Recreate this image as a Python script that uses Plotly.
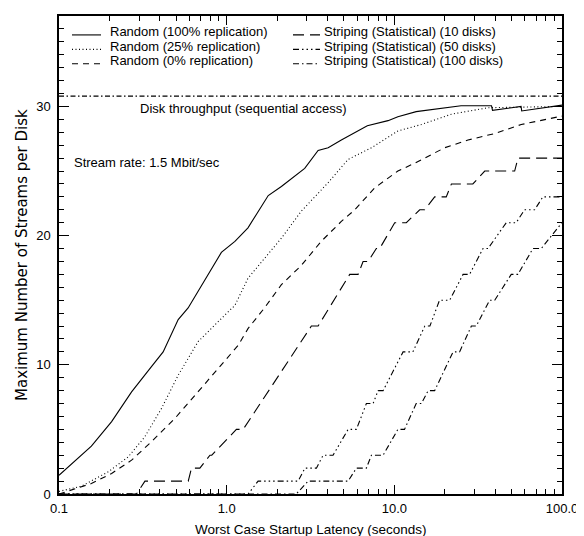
import plotly.graph_objects as go

# ---------------- data ----------------
rand100_x = [0.1, 0.156, 0.206, 0.271, 0.356, 0.418, 0.514, 0.589, 0.93, 1.12, 1.34, 1.77, 2.12,
             2.92, 3.51, 4.03, 4.83, 6.9, 9.17, 10.5, 13.5, 20, 25, 38, 38.5, 57, 57.5, 100]
rand100_y = [1.45, 3.7, 5.6, 7.9, 9.86, 11.0, 13.5, 14.4, 18.7, 19.55, 20.6, 23.1, 23.8,
             25.2, 26.6, 26.8, 27.4, 28.5, 28.9, 29.2, 29.6, 29.9, 30.05, 30.05, 29.7, 30.0, 29.65, 30.1]

rand25_x = [0.1, 0.136, 0.197, 0.259, 0.325, 0.409, 0.514, 0.676, 1.02, 1.12, 1.34, 2.12, 2.79,
            4.03, 5.3, 7.3, 10.5, 14.5, 21.9, 36.2, 100]
rand25_y = [0.2, 0.6, 1.72, 2.88, 4.43, 6.63, 9.2, 11.8, 14.1, 14.6, 16.7, 19.8, 21.9,
            24.1, 25.9, 26.8, 28.1, 28.6, 29.4, 29.9, 30.0]

rand0_x = [0.1, 0.156, 0.206, 0.271, 0.356, 0.491, 0.676, 0.977, 1.17, 1.34, 1.68, 2.12, 2.79,
           3.66, 4.83, 5.81, 7.64, 10.5, 13.2, 19.95, 27.5, 39.6, 57.1, 95.5, 100]
rand0_y = [0, 0.81, 1.59, 2.62, 4.05, 5.85, 7.92, 10.37, 11.5, 12.8, 14.4, 16.2, 17.7,
           19.55, 21.1, 22.0, 23.7, 25.0, 25.6, 26.8, 27.4, 27.9, 28.6, 29.2, 29.25]

stripe10_x = [0.1, 0.29, 0.3255, 0.59, 0.617, 0.692, 0.795, 0.815, 1.143, 1.254, 3.2, 3.51, 5.42,
              6.08, 6.51, 6.97, 7.81, 8.18, 10.05, 11.79, 14.17, 15.18, 17.4, 20.4, 21.9, 29.4,
              34.6, 52.2, 54.6, 100]
stripe10_y = [0, 0, 1, 1, 2, 2, 3, 3, 5, 5, 13, 13, 17,
              17, 18, 18, 19, 19, 21, 21, 22, 22, 23, 23, 24, 24,
              25, 25, 26, 26]

stripe50_x = [0.1, 1.343, 1.54, 2.67, 2.93, 3.43, 3.76, 4.31, 5.3, 5.94, 6.81, 7.47, 8.0, 8.57,
              11.27, 12.9, 15.2, 16.3, 18.6, 21.4, 25.7, 28.1, 33.8, 36.2, 46.5, 53.3, 59.8,
              68.7, 76.9, 92.3, 100]
stripe50_y = [0, 0, 1, 1, 2, 2, 3, 3, 5, 5, 7, 7, 8, 8,
              11, 11, 13, 13, 15, 15, 17, 17, 19, 19, 21, 21, 22,
              22, 23, 23, 23]

stripe100_x = [0.1, 2.6, 3.06, 5.3, 5.94, 6.81, 7.3, 8.57, 10.5, 11.5, 13.5, 14.5, 15.9, 17.4,
               22.4, 24.5, 28.8, 30.8, 37.0, 39.7, 49.8, 54.6, 67.1, 75.2, 100]
stripe100_y = [0, 0, 1, 1, 2, 2, 3, 3, 5, 5, 7, 7, 8, 8,
               11, 11, 13, 13, 15, 15, 17, 17, 19, 19, 21]

disk_throughput = 30.8
x_range = [0.1, 100]

legend_labels = ["Random (100% replication)", "Random (25% replication)", "Random (0% replication)",
                 "Striping (Statistical) (10 disks)", "Striping (Statistical) (50 disks)",
                 "Striping (Statistical) (100 disks)"]

x_tick_vals = [0.1, 1, 10, 100]
x_tick_text = ["0.1", "1.0", "10.0", "100.0"]
y_tick_vals = [0, 10, 20, 30]
y_tick_text = ["0", "10", "20", "30"]

x_title = "Worst Case Startup Latency (seconds)"
y_title = "Maximum Number of Streams per Disk"
throughput_label = "Disk throughput (sequential access)"
rate_label = "Stream rate: 1.5 Mbit/sec"

# ---------------- styles ----------------
FONT = "Liberation Sans, Arial, sans-serif"
YFONT = "DejaVu Sans, Liberation Sans, sans-serif"
dashes = ["solid", "1px,2.5px", "6px,5px", "11px,6px",
          "6px,3px,1.5px,3px,1.5px,3px,1.5px,3px", "6px,3px,1.5px,3px"]
dd_dash = "5px,2.5px,1.5px,2.5px"

series = [(rand100_x, rand100_y), (rand25_x, rand25_y), (rand0_x, rand0_y),
          (stripe10_x, stripe10_y), (stripe50_x, stripe50_y), (stripe100_x, stripe100_y)]

fig = go.Figure()
for (xs, ys), d, name in zip(series, dashes, legend_labels):
    fig.add_trace(go.Scatter(x=xs, y=ys, mode="lines", name=name, showlegend=False,
                             line=dict(color="black", width=1.1, dash=d)))

fig.add_trace(go.Scatter(x=x_range, y=[disk_throughput, disk_throughput], mode="lines",
                         showlegend=False, line=dict(color="black", width=1.1, dash=dd_dash)))

# plot-area geometry (pixels) for legend placement
W, H = 584, 536
ML, MR, MT, MB = 51, 30, 6, 50
PW, PH = W - ML - MR, H - MT - MB

def px_to_paper(xp, yp):
    return (xp - ML) / PW, (H - MB - yp) / PH

row_y = [22, 36.5, 51]
cols = [((64, 93), 100), ((285, 312), 314)]
shapes, annotations = [], []
for i, label in enumerate(legend_labels):
    (sx0, sx1), tx = cols[i // 3]
    ry = row_y[i % 3]
    x0, y0 = px_to_paper(sx0, ry + 3)
    x1, _ = px_to_paper(sx1, ry + 3)
    shapes.append(dict(type="line", xref="paper", yref="paper", x0=x0, x1=x1, y0=y0, y1=y0,
                       line=dict(color="black", width=1.1, dash=dashes[i])))
    ax, ay = px_to_paper(tx, ry)
    annotations.append(dict(text=label, xref="paper", yref="paper", x=ax, y=ay,
                            xanchor="left", yanchor="middle", showarrow=False,
                            font=dict(family=FONT, size=13, color="black")))

ax, ay = px_to_paper(130, 99)
annotations.append(dict(text=throughput_label, xref="paper", yref="paper", x=ax, y=ay,
                        xanchor="left", yanchor="middle", showarrow=False,
                        font=dict(family=FONT, size=13, color="black")))
ax, ay = px_to_paper(64, 153)
annotations.append(dict(text=rate_label, xref="paper", yref="paper", x=ax, y=ay,
                        xanchor="left", yanchor="middle", showarrow=False,
                        font=dict(family=FONT, size=13, color="black")))

# axis titles
ax, ay = px_to_paper(ML + PW / 2, 522)
annotations.append(dict(text=x_title, xref="paper", yref="paper", x=ax, y=ay,
                        xanchor="center", yanchor="middle", showarrow=False,
                        font=dict(family=FONT, size=13.5, color="black")))
ax, ay = px_to_paper(14, MT + PH / 2)
annotations.append(dict(text=y_title, xref="paper", yref="paper", x=ax, y=ay, textangle=-90,
                        xanchor="center", yanchor="middle", showarrow=False,
                        font=dict(family=YFONT, size=15, color="black")))

x_minor = [k * 10 ** e for e in (-1, 0, 1) for k in range(2, 10)]

fig.update_layout(
    width=W, height=H,
    margin=dict(l=ML, r=MR, t=MT, b=MB),
    paper_bgcolor="white", plot_bgcolor="white",
    font=dict(family=FONT, size=13, color="black"),
    shapes=shapes, annotations=annotations,
    xaxis=dict(type="log", range=[-1, 2], showgrid=False, zeroline=False,
               showline=True, linecolor="black", linewidth=1.5, mirror="ticks",
               ticks="inside", ticklen=9, tickwidth=1.2, tickcolor="black",
               tickmode="array", tickvals=x_tick_vals, ticktext=x_tick_text,
               ticklabelstandoff=2,
               minor=dict(ticks="inside", ticklen=5, tickwidth=1, tickcolor="black",
                          tickmode="array", tickvals=x_minor, showgrid=False)),
    yaxis=dict(range=[0, 37], showgrid=False, zeroline=False,
               showline=True, linecolor="black", linewidth=1.5, mirror="ticks",
               ticks="inside", ticklen=10, tickwidth=1.2, tickcolor="black",
               tickmode="array", tickvals=y_tick_vals, ticktext=y_tick_text,
               ticklabelstandoff=4,
               minor=dict(ticks="inside", ticklen=5, tickwidth=1, tickcolor="black",
                          dtick=1, showgrid=False)),
)

fig.write_html("out.html")
